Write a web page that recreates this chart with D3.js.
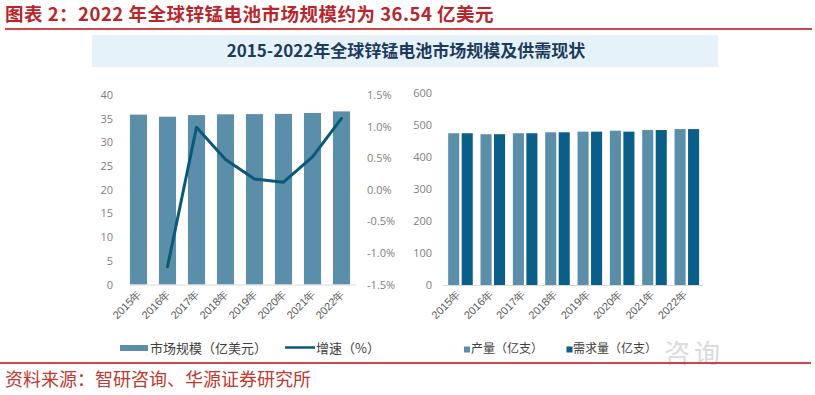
<!DOCTYPE html>
<html><head><meta charset="utf-8">
<script src="https://cdn.jsdelivr.net/npm/d3@7"></script>
<style>
html,body{margin:0;padding:0;background:#fff;}
svg{display:block;font-family:"Noto Sans CJK SC","Noto Sans",sans-serif;}
</style></head>
<body><svg id="c" width="815" height="395"></svg>
<script>
// ---- data ----
const years = ["2015年","2016年","2017年","2018年","2019年","2020年","2021年","2022年"];
const marketSize = [35.86, 35.41, 35.76, 35.92, 35.97, 36.01, 36.20, 36.54];      // 亿美元
const growth = [null, -1.22, 0.99, 0.48, 0.17, 0.12, 0.52, 1.13];                   // %
const production = [473, 470, 473, 476, 478, 481, 483, 486];                         // 亿支
const demand = [473, 470, 473, 476, 478, 478, 483, 486];                             // 亿支
const leftTicks = [0,5,10,15,20,25,30,35,40];
const pctTicks = [-1.5,-1.0,-0.5,0.0,0.5,1.0,1.5];
const rightTicks = [0,100,200,300,400,500,600];
const mainTitle = "图表 2：2022 年全球锌锰电池市场规模约为 36.54 亿美元";
const panelTitle = "2015-2022年全球锌锰电池市场规模及供需现状";
const sourceText = "资料来源：智研咨询、华源证券研究所";
const legendLeft = ["市场规模（亿美元）","增速（%）"];
const legendRight = ["产量（亿支）","需求量（亿支）"];

const svg = d3.select("#c");
const red = "#c0282e", barCol = "#5b8ea8", lineCol = "#0c5878", darkBar = "#0a5f88";
const axisTxt = "#808080";

// header
svg.append("text").attr("x",5).attr("y",21).attr("font-size",18.5).attr("font-weight","bold")
  .attr("letter-spacing",0.5).attr("fill","#b8262c").text(mainTitle);
svg.append("rect").attr("x",5).attr("y",28).attr("width",807).attr("height",2).attr("fill",red).attr("opacity",0.85);

// panel title band
svg.append("rect").attr("x",92).attr("y",35).attr("width",626).attr("height",32).attr("fill","#e6f2f9");
svg.append("text").attr("x",406).attr("y",57).attr("text-anchor","middle").attr("font-size",17)
  .attr("font-weight","bold").attr("fill","#1d3b5c").text(panelTitle);

// watermark
svg.append("text").attr("x",664).attr("y",363).attr("font-size",26).attr("fill","#dadada")
  .attr("letter-spacing",4).text("咨询");

// ---- left chart ----
const xL = d3.scaleBand().domain(years).range([124,356]).paddingInner(0.41).paddingOuter(0.205);
const yL = d3.scaleLinear().domain([0,40]).range([284.5,95]);
const yP = d3.scaleLinear().domain([-1.5,1.5]).range([284.5,95]);

const gL = svg.append("g");
gL.append("g").attr("transform","translate(115,0)")
  .call(d3.axisLeft(yL).tickValues(leftTicks).tickSize(0).tickPadding(2).tickFormat(d3.format("d")))
  .call(g=>g.select(".domain").remove())
  .call(g=>g.selectAll("text").attr("fill",axisTxt).attr("font-size",11).attr("font-family","Open Sans, sans-serif"));
gL.append("g").attr("transform","translate(365,0)")
  .call(d3.axisRight(yP).tickValues(pctTicks).tickSize(0).tickPadding(2).tickFormat(d=>d.toFixed(1)+"%"))
  .call(g=>g.select(".domain").remove())
  .call(g=>g.selectAll("text").attr("fill",axisTxt).attr("font-size",11).attr("font-family","Open Sans, sans-serif"));

gL.selectAll("rect.bar").data(years).join("rect").attr("class","bar")
  .attr("x",d=>xL(d)).attr("width",xL.bandwidth())
  .attr("y",(d,i)=>yL(marketSize[i])).attr("height",(d,i)=>yL(0)-yL(marketSize[i]))
  .attr("fill",barCol);
gL.append("line").attr("x1",129).attr("x2",356).attr("y1",yL(0)+0.5).attr("y2",yL(0)+0.5).attr("stroke","#d9d9d9");

const line = d3.line().defined(d=>d[1]!==null)
  .x(d=>xL(d[0])+xL.bandwidth()/2).y(d=>yP(d[1])).curve(d3.curveLinear);
gL.append("path").datum(years.map((y,i)=>[y,growth[i]])).attr("d",line)
  .attr("fill","none").attr("stroke",lineCol).attr("stroke-width",3).attr("stroke-linejoin","round").attr("stroke-linecap","round");

gL.append("g").attr("transform","translate(0,292)")
  .call(d3.axisBottom(xL).tickSize(0).tickPadding(0))
  .call(g=>g.select(".domain").remove())
  .call(g=>g.selectAll("text").attr("fill","#595959").attr("font-size",11)
    .attr("text-anchor","end").attr("dy","0.35em")
    .attr("transform","translate(1,0) rotate(-45)"));

// left legend
gL.append("rect").attr("x",120).attr("y",345).attr("width",28).attr("height",6).attr("fill",barCol);
gL.append("text").attr("x",150).attr("y",352.5).attr("font-size",13).attr("fill","#404040").text(legendLeft[0]);
gL.append("line").attr("x1",285).attr("x2",315).attr("y1",347.5).attr("y2",347.5).attr("stroke",lineCol).attr("stroke-width",2.5);
gL.append("text").attr("x",316).attr("y",352.5).attr("font-size",13).attr("fill","#404040").text(legendLeft[1]);

// ---- right chart ----
const xR = d3.scaleBand().domain(years).range([444.3,703]).paddingInner(0.24).paddingOuter(0.12);
const xSub = d3.scaleBand().domain(["p","d"]).range([0,xR.bandwidth()]).paddingInner(0.18);
const yR = d3.scaleLinear().domain([0,600]).range([285,92.5]);

const gR = svg.append("g");
gR.append("g").attr("transform","translate(434,0)")
  .call(d3.axisLeft(yR).tickValues(rightTicks).tickSize(0).tickPadding(2).tickFormat(d3.format("d")))
  .call(g=>g.select(".domain").remove())
  .call(g=>g.selectAll("text").attr("fill",axisTxt).attr("font-size",11).attr("font-family","Open Sans, sans-serif"));

const grp = gR.selectAll("g.grp").data(years).join("g").attr("class","grp")
  .attr("transform",d=>`translate(${xR(d)},0)`);
grp.append("rect").attr("x",xSub("p")).attr("width",xSub.bandwidth())
  .attr("y",(d,i)=>yR(production[i])).attr("height",(d,i)=>yR(0)-yR(production[i])).attr("fill",barCol);
grp.append("rect").attr("x",xSub("d")).attr("width",xSub.bandwidth())
  .attr("y",(d,i)=>yR(demand[i])).attr("height",(d,i)=>yR(0)-yR(demand[i])).attr("fill",darkBar);
gR.append("line").attr("x1",443).attr("x2",703).attr("y1",yR(0)+0.5).attr("y2",yR(0)+0.5).attr("stroke","#d9d9d9");

gR.append("g").attr("transform","translate(0,292)")
  .call(d3.axisBottom(xR).tickSize(0).tickPadding(0))
  .call(g=>g.select(".domain").remove())
  .call(g=>g.selectAll("text").attr("fill","#595959").attr("font-size",11)
    .attr("text-anchor","end").attr("dy","0.35em")
    .attr("transform","translate(-2,0) rotate(-45)"));

// right legend
gR.append("rect").attr("x",464).attr("y",346.5).attr("width",6).attr("height",6).attr("fill",barCol);
gR.append("text").attr("x",471).attr("y",353).attr("font-size",12).attr("fill","#404040").text(legendRight[0]);
gR.append("rect").attr("x",566.5).attr("y",346.5).attr("width",6).attr("height",6).attr("fill",darkBar);
gR.append("text").attr("x",573).attr("y",353).attr("font-size",12).attr("fill","#404040").text(legendRight[1]);

// footer
svg.append("rect").attr("x",0).attr("y",362).attr("width",811).attr("height",2).attr("fill",red).attr("opacity",0.85);
svg.append("text").attr("x",5).attr("y",386).attr("font-size",18).attr("fill","#c0392f").text(sourceText);
</script></body></html>
